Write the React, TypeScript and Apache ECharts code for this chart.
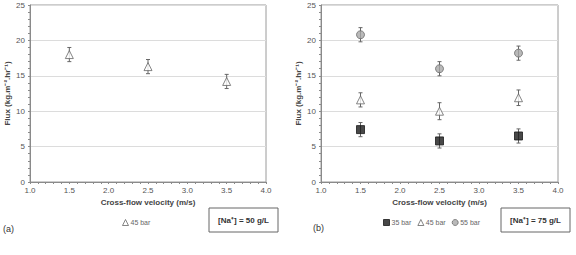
import React, { useEffect, useRef } from "react";
import * as echarts from "echarts";

const velocities = [1.5, 2.5, 3.5];
const flux45a = [18.0, 16.3, 14.2];
const err45a = [1.0, 1.0, 1.0];
const flux35b = [7.4, 5.8, 6.5];
const err35b = [1.0, 1.0, 1.0];
const flux45b = [11.6, 10.0, 11.9];
const err45b = [1.0, 1.2, 1.1];
const flux55b = [20.8, 16.0, 18.2];
const err55b = [1.0, 1.0, 1.0];
const xTicks = [1.0, 1.5, 2.0, 2.5, 3.0, 3.5, 4.0];
const yTicks = [0, 5, 10, 15, 20, 25];

const axisGrey = "#8a8a8a";
const textGrey = "#555";

function pts(vals: number[]) {
  return velocities.map((v, i) => [v, vals[i]]);
}
function errData(vals: number[], errs: number[]) {
  return velocities.map((v, i) => [v, vals[i] - errs[i], vals[i] + errs[i]]);
}

function errSeries(idx: number, vals: number[], errs: number[]) {
  return {
    type: "custom",
    xAxisIndex: idx,
    yAxisIndex: idx,
    silent: true,
    z: 1,
    data: errData(vals, errs),
    renderItem: (params: any, api: any) => {
      const x = api.value(0);
      const lo = api.coord([x, api.value(1)]);
      const hi = api.coord([x, api.value(2)]);
      const st = { stroke: "#666", lineWidth: 1 };
      return {
        type: "group",
        children: [
          { type: "line", shape: { x1: lo[0], y1: lo[1], x2: hi[0], y2: hi[1] }, style: st },
          { type: "line", shape: { x1: lo[0] - 2, y1: lo[1], x2: lo[0] + 2, y2: lo[1] }, style: st },
          { type: "line", shape: { x1: hi[0] - 2, y1: hi[1], x2: hi[0] + 2, y2: hi[1] }, style: st },
        ],
      };
    },
  };
}

function xAxis(idx: number) {
  return {
    type: "value",
    gridIndex: idx,
    min: 1,
    max: 4,
    interval: 0.5,
    name: "Cross-flow velocity (m/s)",
    nameLocation: "middle",
    nameGap: 16,
    nameTextStyle: { color: "#444", fontSize: 8, fontWeight: "bold", fontFamily: "Liberation Sans" },
    axisLine: { show: true, lineStyle: { color: axisGrey } },
    axisTick: { show: true, length: 2, lineStyle: { color: axisGrey } },
    minorTick: { show: true, splitNumber: 5, length: 2, lineStyle: { color: axisGrey } },
    axisLabel: {
      color: textGrey,
      fontSize: 8,
      margin: 4,
      fontFamily: "Liberation Sans",
      formatter: (v: number) => (xTicks.includes(v) ? v.toFixed(1) : ""),
    },
    splitLine: { show: false },
  };
}

function yAxis(idx: number) {
  return {
    type: "value",
    gridIndex: idx,
    min: 0,
    max: 25,
    interval: 5,
    name: "Flux (kg.m\u207B\u00B2.hr\u207B\u00B9)",
    nameLocation: "middle",
    nameGap: 19,
    nameTextStyle: { color: "#444", fontSize: 8, fontWeight: "bold", fontFamily: "Liberation Sans" },
    axisLine: { show: true, lineStyle: { color: axisGrey } },
    axisTick: { show: true, length: 2, lineStyle: { color: axisGrey } },
    minorTick: { show: true, splitNumber: 5, length: 2, lineStyle: { color: axisGrey } },
    axisLabel: {
      color: textGrey,
      fontSize: 8,
      margin: 5,
      fontFamily: "Liberation Sans",
      formatter: (v: number) => (yTicks.includes(v) ? String(v) : ""),
    },
    splitLine: { show: true, lineStyle: { color: "#dcdcdc" } },
  };
}

const triStyle = { color: "#ffffff", borderColor: "#666", borderWidth: 1 };
const sqStyle = { color: "#1a1a1a", borderColor: "#1a1a1a", borderWidth: 1 };
const cirStyle = { color: "#a8a8a8", borderColor: "#6a6a6a", borderWidth: 1 };

function box(x: number, label: string) {
  return {
    type: "group",
    children: [
      {
        type: "rect",
        shape: { x, y: 208, width: 69, height: 24 },
        style: { fill: "#fff", stroke: "#666", lineWidth: 1 },
      },
      {
        type: "text",
        x: x + 34.5,
        y: 220,
        style: {
          text: label,
          fill: "#333",
          font: "bold 8px 'Liberation Sans'",
          align: "center",
          verticalAlign: "middle",
        },
      },
    ],
  };
}

const legendText = { color: "#666", fontSize: 7, fontFamily: "Liberation Sans", padding: [0, 0, 0, -3] };

export default function App() {
  const ref = useRef<HTMLDivElement>(null);
  useEffect(() => {
    if (!ref.current) return;
    const chart = echarts.init(ref.current, undefined, { renderer: "svg" });
    chart.setOption({
      animation: false,
      backgroundColor: "#ffffff",
      grid: [
        { left: 30, top: 5, width: 236, height: 177, show: true, borderColor: "#9a9a9a", borderWidth: 1 },
        { left: 321, top: 5, width: 237, height: 177, show: true, borderColor: "#9a9a9a", borderWidth: 1 },
      ],
      xAxis: [xAxis(0), xAxis(1)],
      yAxis: [yAxis(0), yAxis(1)],
      legend: [
        {
          data: [{ name: "45 bar", icon: "triangle", itemStyle: triStyle }],
          left: 117,
          top: 214,
          itemWidth: 6,
          itemHeight: 6,
          itemGap: 6,
          textStyle: legendText,
          selectedMode: false,
        },
        {
          data: [
            { name: "35 bar", icon: "rect", itemStyle: sqStyle },
            { name: "45 bar", icon: "triangle", itemStyle: triStyle },
            { name: "55 bar", icon: "circle", itemStyle: cirStyle },
          ],
          left: 378,
          top: 214,
          itemWidth: 6,
          itemHeight: 6,
          itemGap: 6,
          textStyle: legendText,
          selectedMode: false,
        },
      ],
      graphic: [
        box(209, "[Na\u207A] = 50 g/L"),
        box(501, "[Na\u207A] = 75 g/L"),
        {
          type: "text",
          x: 3,
          y: 229,
          style: { text: "(a)", fill: "#333", font: "9px 'Liberation Sans'", verticalAlign: "middle" },
        },
        {
          type: "text",
          x: 313,
          y: 228,
          style: { text: "(b)", fill: "#333", font: "9px 'Liberation Sans'", verticalAlign: "middle" },
        },
      ],
      series: [
        errSeries(0, flux45a, err45a),
        {
          name: "45 bar",
          type: "scatter",
          xAxisIndex: 0,
          yAxisIndex: 0,
          symbol: "triangle",
          symbolSize: 8,
          itemStyle: triStyle,
          z: 3,
          data: pts(flux45a),
        },
        errSeries(1, flux35b, err35b),
        errSeries(1, flux45b, err45b),
        errSeries(1, flux55b, err55b),
        {
          name: "35 bar",
          type: "scatter",
          xAxisIndex: 1,
          yAxisIndex: 1,
          symbol: "rect",
          symbolSize: 8,
          itemStyle: sqStyle,
          z: 3,
          data: pts(flux35b),
        },
        {
          name: "45 bar",
          type: "scatter",
          xAxisIndex: 1,
          yAxisIndex: 1,
          symbol: "triangle",
          symbolSize: 8,
          itemStyle: triStyle,
          z: 3,
          data: pts(flux45b),
        },
        {
          name: "55 bar",
          type: "scatter",
          xAxisIndex: 1,
          yAxisIndex: 1,
          symbol: "circle",
          symbolSize: 8,
          itemStyle: cirStyle,
          z: 3,
          data: pts(flux55b),
        },
      ],
    });
    return () => chart.dispose();
  }, []);
  return <div ref={ref} style={{ width: 576, height: 255, position: "absolute", left: 0, top: 0 }} />;
}
